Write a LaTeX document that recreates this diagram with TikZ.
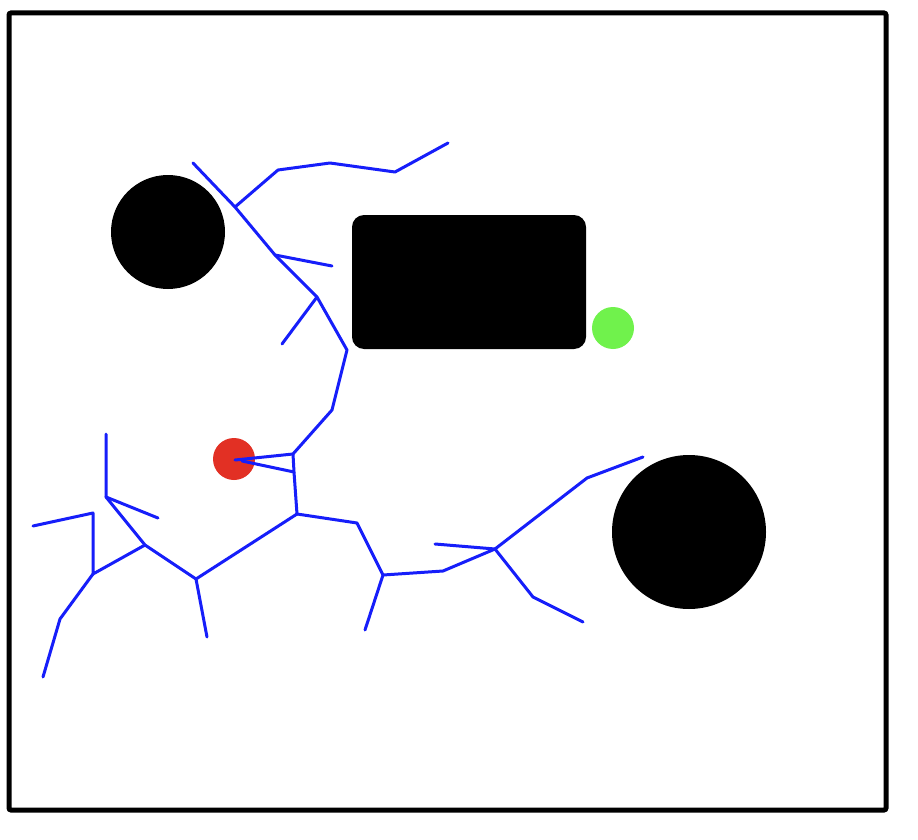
\documentclass[tikz,border=0pt]{standalone}
\usetikzlibrary{calc}
\definecolor{treeblue}{RGB}{22,30,250}
\definecolor{startred}{RGB}{226,48,36}
\definecolor{goalgreen}{RGB}{112,242,76}
\tikzset{
  edge/.style={draw=treeblue, line width=3pt, line cap=round, line join=round},
  obstacle/.style={fill=black},
  frame/.style={draw=black, line width=5pt, rounded corners=2pt}
}
\begin{document}
\begin{tikzpicture}[x=1pt,y=-1pt]
\fill[white] (0,0) rectangle (918,840);
\useasboundingbox (0,0) rectangle (918,840);
% frame
\draw[frame] (9,13) rectangle (886,810);
% obstacles
\fill[obstacle] (168,232) circle (57);
\fill[obstacle] (689,532) circle (77);
\fill[obstacle, rounded corners=12pt] (352,215) rectangle (586,349);
% start and goal
\fill[goalgreen] (613,328) circle (21);
\fill[startred] (234,459) circle (21);
% tree vertices
\coordinate (red) at (235,460);
\coordinate (redb) at (242,461);
\coordinate (t1) at (193,163);
\coordinate (t2) at (235,207);
\coordinate (t3) at (278,170);
\coordinate (t4) at (330,163);
\coordinate (t5) at (395,172);
\coordinate (t6) at (448,143);
\coordinate (t7) at (275,255);
\coordinate (t8) at (332,266);
\coordinate (t9) at (317,297);
\coordinate (t10) at (282,344);
\coordinate (t11) at (347,350);
\coordinate (t12) at (332,410);
\coordinate (t13) at (293,454);
\coordinate (t14) at (294,472);
\coordinate (t15) at (297,514);
\coordinate (l1) at (196,579);
\coordinate (l2) at (207,637);
\coordinate (l3) at (145,545);
\coordinate (l4) at (106,497);
\coordinate (l5) at (106,434);
\coordinate (l6) at (158,518);
\coordinate (l7) at (93,574);
\coordinate (l8) at (93,513);
\coordinate (l9) at (33,526);
\coordinate (l10) at (60,619);
\coordinate (l11) at (43,677);
\coordinate (r1) at (357,523);
\coordinate (r2) at (383,575);
\coordinate (r3) at (365,630);
\coordinate (r4) at (443,571);
\coordinate (r5) at (495,549);
\coordinate (r6) at (435,544);
\coordinate (r7) at (533,597);
\coordinate (r8) at (583,622);
\coordinate (r9) at (587,478);
\coordinate (r10) at (643,457);
% edges
\draw[edge] (t1) -- (t2) -- (t7) -- (t9) -- (t11) -- (t12) -- (t13) -- (t14) -- (t15);
\draw[edge] (t2) -- (t3) -- (t4) -- (t5) -- (t6);
\draw[edge] (t7) -- (t8);
\draw[edge] (t9) -- (t10);
\draw[edge] (t13) -- (red);
\draw[edge] (t14) -- (redb);
\draw[edge] (t15) -- (l1) -- (l2);
\draw[edge] (l1) -- (l3) -- (l4) -- (l5);
\draw[edge] (l4) -- (l6);
\draw[edge] (l3) -- (l7) -- (l8) -- (l9);
\draw[edge] (l7) -- (l10) -- (l11);
\draw[edge] (t15) -- (r1) -- (r2) -- (r3);
\draw[edge] (r2) -- (r4) -- (r5) -- (r6);
\draw[edge] (r5) -- (r7) -- (r8);
\draw[edge] (r5) -- (r9) -- (r10);
\end{tikzpicture}
\end{document}
